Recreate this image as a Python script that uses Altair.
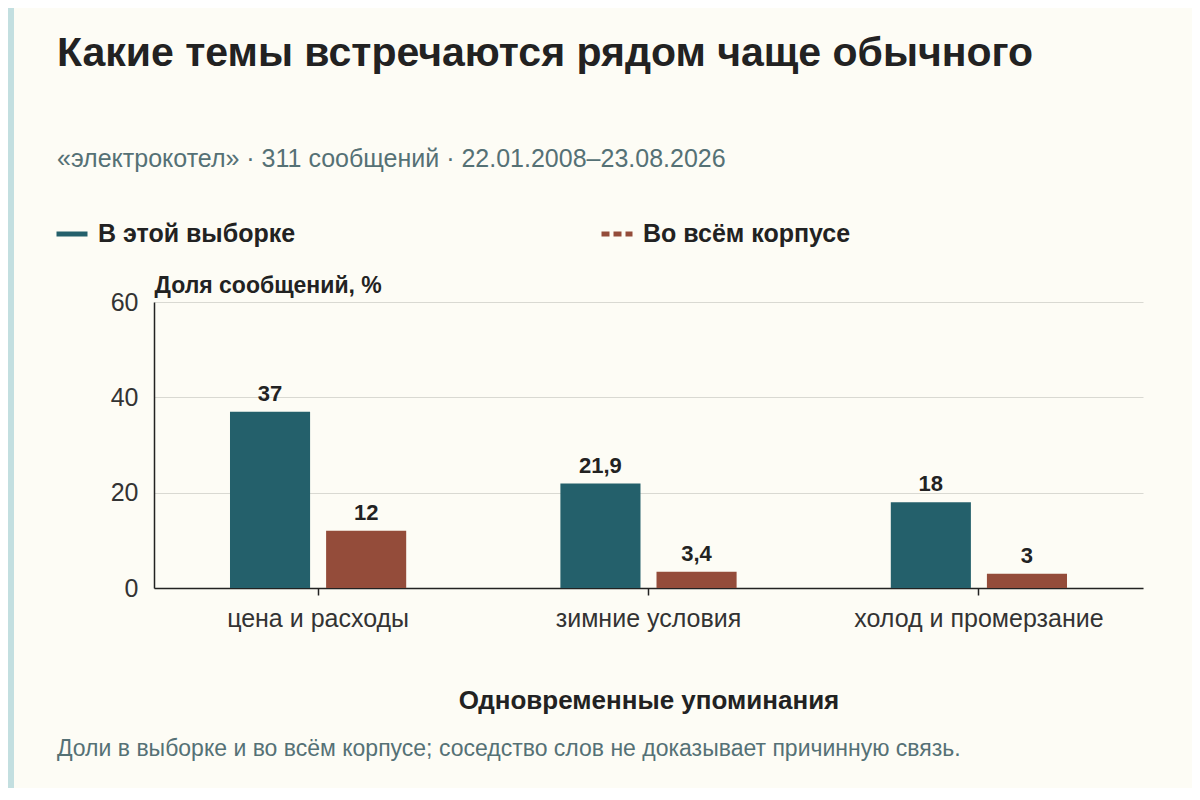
import altair as alt
import pandas as pd

categories = ["цена и расходы", "зимние условия", "холод и промерзание"]
series = ["В этой выборке", "Во всём корпусе"]
sample_share = [37, 21.9, 18]
corpus_share = [12, 3.4, 3]
y_ticks = [0, 20, 40, 60]

TEAL = "#24606b"
RUST = "#944c3a"
BG = "#fdfcf5"
FONT = "Liberation Sans"

rows = []
for c, a, b in zip(categories, sample_share, corpus_share):
    rows.append({"cat": c, "series": series[0], "val": a})
    rows.append({"cat": c, "series": series[1], "val": b})
df = pd.DataFrame(rows)
df["label"] = df["val"].map(lambda v: (f"{v:g}").replace(".", ","))

W, H = 989, 286

x_axis = alt.Axis(title="Одновременные упоминания", labelAngle=0, labelAlign="center",
                  labelFontSize=25, labelColor="#333333", labelFont=FONT,
                  labelPadding=11, labelLimit=400, domainColor="#222222",
                  domainWidth=1.5, ticks=True, tickColor="#222222",
                  tickWidth=1.5, tickSize=7, bandPosition=0.5,
                  titleFontSize=26, titleFont=FONT, titleFontWeight="bold",
                  titleColor="#222222", titlePadding=56, grid=False)
x_scale = alt.Scale(paddingInner=0.4667, paddingOuter=0.23)
x_enc = alt.X("cat:N", sort=categories, scale=x_scale, axis=x_axis)
xo_enc = alt.XOffset("series:N", sort=series,
                     scale=alt.Scale(paddingInner=0.1667, paddingOuter=0))
y_enc = alt.Y("val:Q", scale=alt.Scale(domain=[0, 60], nice=False),
              axis=alt.Axis(values=y_ticks, title="Доля сообщений, %", titleAngle=0,
                            titleX=0, titleY=-10, titleAlign="left",
                            titleBaseline="alphabetic", titleFontSize=23,
                            titleFont=FONT, titleFontWeight="bold", titleColor="#222222",
                            labelFontSize=25, labelColor="#333333", labelFont=FONT,
                            labelPadding=16, ticks=False, domainColor="#222222",
                            domainWidth=1.5, gridColor="#d9d9d2", gridWidth=1))

color_scale = alt.Scale(domain=series, range=[TEAL, RUST])
dash_scale = alt.Scale(domain=series, range=[[1, 0], [8, 4]])

bars = alt.Chart(df).mark_bar().encode(
    x=x_enc, xOffset=xo_enc, y=y_enc,
    color=alt.Color("series:N", sort=series, scale=color_scale,
                    legend=alt.Legend(title=None)),
)

# single-point lines: draw nothing, but give the legend its line symbols
legend_lines = alt.Chart(df).transform_filter(
    alt.datum.cat == categories[0]
).mark_line(strokeWidth=5).encode(
    x=x_enc, y=y_enc,
    color=alt.Color("series:N", sort=series, scale=color_scale,
                    legend=alt.Legend(title=None)),
    strokeDash=alt.StrokeDash("series:N", sort=series, scale=dash_scale,
                              legend=alt.Legend(title=None)),
)

labels = alt.Chart(df).mark_text(baseline="bottom", dy=-6, fontSize=22,
                                 fontWeight="bold", font=FONT, color="#222222").encode(
    x=x_enc, xOffset=xo_enc, y=y_enc, text="label:N")

note = alt.Chart(pd.DataFrame({"t": ["Доли в выборке и во всём корпусе; соседство слов не доказывает причинную связь."]})).mark_text(
    align="left", baseline="alphabetic", fontSize=23, font=FONT, color="#557175").encode(
    x=alt.value(-97), y=alt.value(H + 168), text="t:N")

strip = alt.Chart(pd.DataFrame({"k": [0]})).mark_rect(color="#c3dfe0").encode(
    x=alt.value(-146), x2=alt.value(-140), y=alt.value(-294), y2=alt.value(H + 200))

chart = alt.layer(strip, legend_lines, bars, labels, note).properties(
    width=W, height=H,
    autosize=alt.AutoSizeParams(type="none"),
    padding={"left": 146, "top": 294, "right": 49, "bottom": 200},
    title=alt.TitleParams(
        text="Какие темы встречаются рядом чаще обычного",
        subtitle="«электрокотел» · 311 сообщений · 22.01.2008–23.08.2026",
        anchor="start", frame="group", font=FONT, fontSize=41, fontWeight="bold",
        color="#222222", subtitleFont=FONT, subtitleFontSize=25,
        subtitleColor="#557175", subtitlePadding=72, dx=-97, offset=-165),
).configure(background=BG).configure_view(stroke=None).configure_legend(
    orient="none", legendX=-100, legendY=-86, direction="horizontal",
    symbolType="stroke", symbolSize=961, symbolStrokeWidth=5,
    labelFont=FONT, labelFontSize=25, labelFontWeight="bold", labelColor="#222222",
    labelOffset=8, labelLimit=400, columnPadding=285, gridAlign="all",
)

chart.save("out.html", embed_options={"renderer": "svg", "actions": False})
